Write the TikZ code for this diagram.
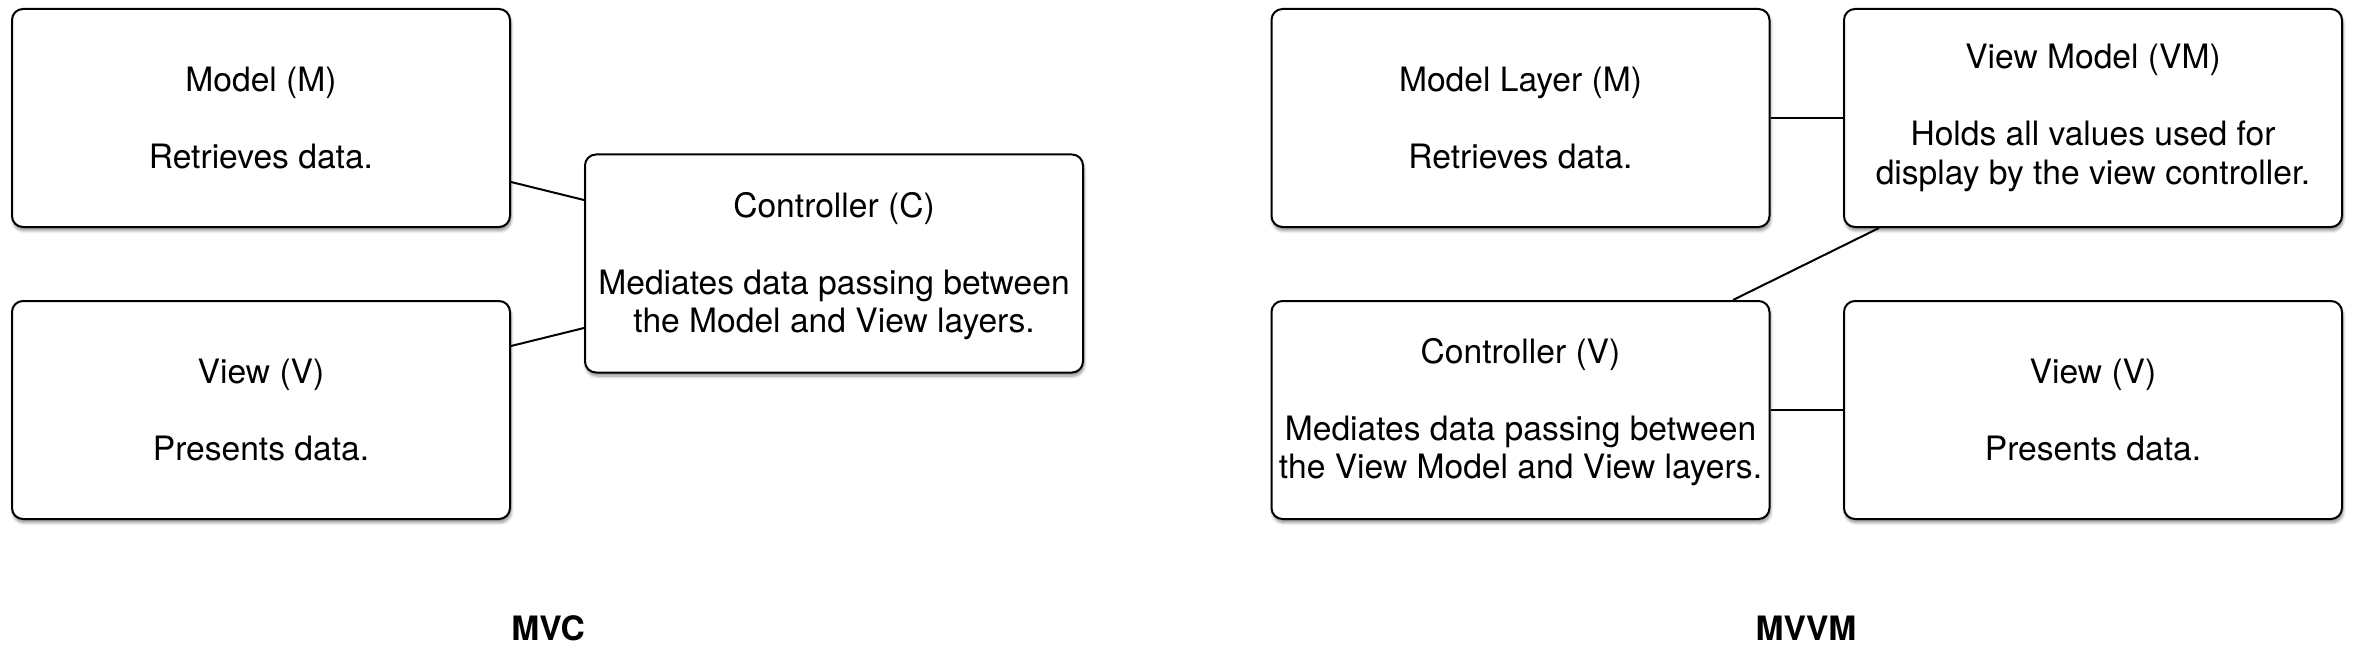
\documentclass[tikz,border=0pt]{standalone}
\usepackage{fontspec}
\setmainfont{TeX Gyre Heros}
\usetikzlibrary{shadows.blur}
\begin{document}
\begin{tikzpicture}[x=1pt,y=-1pt,
  layerbox/.style={draw=black, line width=2pt, rounded corners=11pt, fill=white,
    minimum width=498pt, minimum height=218pt, inner sep=0pt, align=center,
    font=\fontsize{33.6}{38.4}\selectfont,
    blur shadow={shadow xshift=1pt, shadow yshift=-3.5pt, shadow blur radius=3pt, shadow blur steps=6, shadow opacity=45}},
  link/.style={draw=black, line width=2pt},
  caption/.style={font=\fontsize{33.6}{38.4}\selectfont\bfseries, inner sep=0pt}]
\useasboundingbox (0,0) rectangle (2354,658);
% MVC
\node[layerbox] (M) at (261,118) {Model (M)\\[38.4pt]Retrieves data.};
\node[layerbox] (V) at (261,410) {View (V)\\[38.4pt]Presents data.};
\node[layerbox] (C) at (834,263.5) {\rule{0pt}{30pt}Controller (C)\\[38.4pt]Mediates data passing between\\the Model and View layers.};
\draw[link] ([yshift=-64pt]M.east) -- ([yshift=63.5pt]C.west);
\draw[link] ([yshift=64pt]V.east) -- ([yshift=-64.5pt]C.west);
% MVVM
\node[layerbox] (ML) at (1520.5,118) {Model Layer (M)\\[38.4pt]Retrieves data.};
\node[layerbox] (VM) at (2093,118) {View Model (VM)\\[38.4pt]Holds all values used for\\display by the view controller.};
\node[layerbox] (CV) at (1520.5,410) {\rule{0pt}{30pt}Controller (V)\\[38.4pt]Mediates data passing between\\the View Model and View layers.};
\node[layerbox] (VV) at (2093,410) {View (V)\\[38.4pt]Presents data.};
\draw[link] (ML.east) -- (VM.west);
\draw[link] ([xshift=-214pt]VM.south) -- ([xshift=212.5pt]CV.north);
\draw[link] (CV.east) -- (VV.west);
% captions
\node[caption] (mvc) at (548,628) {MVC};
\node[caption] (mvvm) at (1806,628) {MVVM};
\end{tikzpicture}
\end{document}
